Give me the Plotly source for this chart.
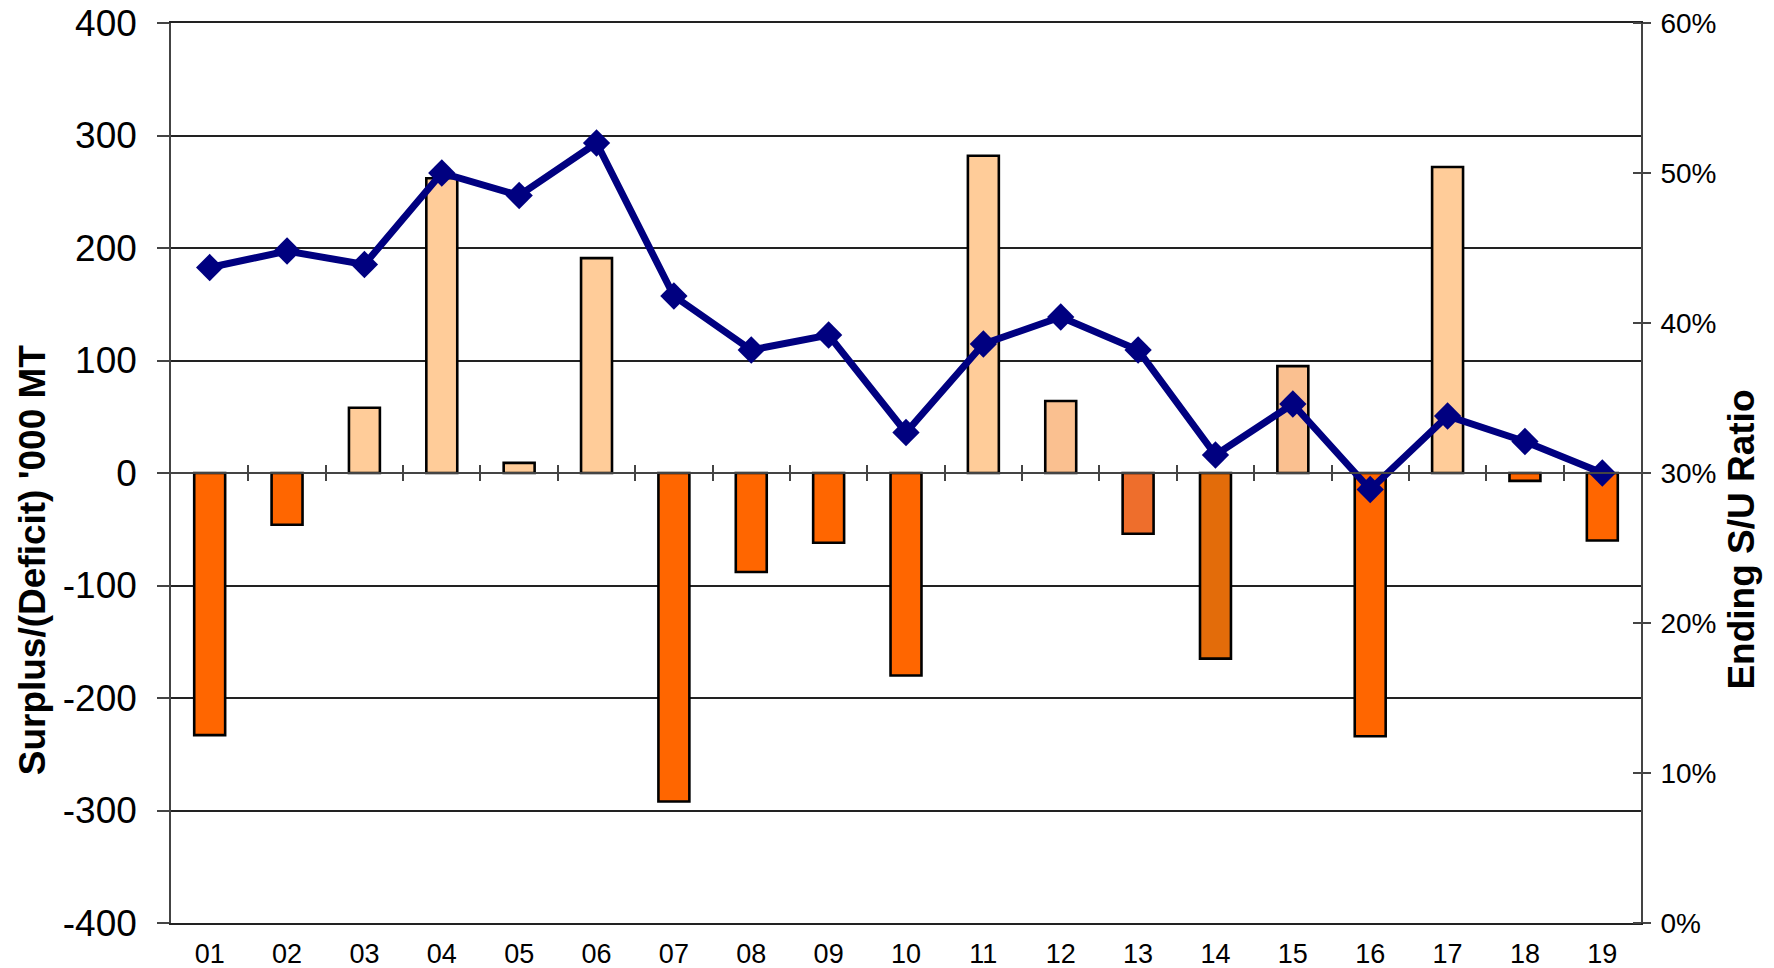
import plotly.graph_objects as go

# ---- data ----
categories = ["01", "02", "03", "04", "05", "06", "07", "08", "09", "10",
              "11", "12", "13", "14", "15", "16", "17", "18", "19"]
surplus = [-233, -46, 58, 262, 9, 191, -292, -88, -62, -180,
           282, 64, -54, -165, 95, -234, 272, -7, -60]
su_ratio = [0.437, 0.448, 0.439, 0.500, 0.485, 0.520, 0.418, 0.382, 0.392, 0.327,
            0.386, 0.404, 0.382, 0.312, 0.346, 0.289, 0.338, 0.321, 0.300]
left_ticks = [-400, -300, -200, -100, 0, 100, 200, 300, 400]
left_tick_labels = ["-400", "-300", "-200", "-100", "0", "100", "200", "300", "400"]
right_ticks = [0, 0.1, 0.2, 0.3, 0.4, 0.5, 0.6]
right_tick_labels = ["0%", "10%", "20%", "30%", "40%", "50%", "60%"]

# ---- styles ----
bar_colors = ["#FF6600", "#FF6600", "#FFCC99", "#FFCC99", "#FFCC99", "#FFCC99",
              "#FF6600", "#FF6600", "#FF6600", "#FF6600", "#FFCC99", "#FAC090",
              "#EE6E2C", "#E36C0A", "#FAC090", "#FF6600", "#FFCC99", "#FF6600",
              "#FF6600"]
FONT = "Arial, Liberation Sans, sans-serif"
GRID = "#222222"
AX = "#444444"

# page body has an 8px default margin; size/margins compensate for it
W, H = 1766, 960
ML, MR, MT, MB = 163, 133, 15, 45
PW = W - ML - MR

pos = list(range(len(categories)))
bounds = [p + 0.5 for p in pos[:-1]]
xr = [-0.5, len(categories) - 0.5]

fig = go.Figure()
fig.add_trace(go.Bar(
    x=pos, y=surplus, width=0.4,
    marker=dict(color=bar_colors, line=dict(color="#000000", width=2.6)),
    xaxis="x", yaxis="y", showlegend=False,
))
fig.add_trace(go.Scatter(
    x=pos, y=su_ratio, mode="lines+markers",
    line=dict(color="#000080", width=7),
    marker=dict(symbol="diamond", size=21, color="#000080"),
    xaxis="x2", yaxis="y2", showlegend=False,
))

fig.update_layout(
    width=W, height=H,
    margin=dict(l=ML, r=MR, t=MT, b=MB),
    paper_bgcolor="white", plot_bgcolor="white",
    font=dict(family=FONT, color="#000000"),
    bargap=0.6,
    xaxis=dict(
        range=xr, tickmode="array", tickvals=pos, ticktext=categories,
        showgrid=False, zeroline=False, ticks="",
        showline=True, mirror=True, linecolor=GRID, linewidth=1.5,
        tickfont=dict(size=27), ticklabelstandoff=6, automargin=False,
        ticklabeloverflow="allow",
    ),
    xaxis2=dict(
        overlaying="x", anchor="free", position=0.5, range=xr,
        tickmode="array", tickvals=bounds, showticklabels=False,
        ticks="outside", ticklen=7, tickwidth=1.5, tickcolor=AX,
        minor=dict(tickmode="array", tickvals=bounds, ticks="inside",
                   ticklen=7, tickwidth=1.5, tickcolor=AX),
        showline=True, linecolor=AX, linewidth=1.6,
        showgrid=False, zeroline=False, automargin=False,
    ),
    yaxis=dict(
        range=[-400, 400], tickmode="array", tickvals=left_ticks,
        ticktext=left_tick_labels,
        showgrid=True, gridcolor=GRID, gridwidth=1.5,
        zeroline=False, showline=True, linecolor=AX, linewidth=1.6,
        ticks="outside", ticklen=12, tickwidth=1.5, tickcolor=AX,
        tickfont=dict(size=37), ticklabelstandoff=13, automargin=False,
        ticklabeloverflow="allow",
    ),
    yaxis2=dict(
        overlaying="y", anchor="x", side="right", range=[0, 0.6],
        tickmode="array", tickvals=right_ticks, ticktext=right_tick_labels,
        showgrid=False, zeroline=False,
        showline=True, linecolor=AX, linewidth=1.6,
        ticks="outside", ticklen=8, tickwidth=1.5, tickcolor=AX,
        minor=dict(tickmode="array", tickvals=right_ticks, ticks="inside",
                   ticklen=8, tickwidth=1.5, tickcolor=AX),
        tickfont=dict(size=28), ticklabelstandoff=4, automargin=False,
        ticklabeloverflow="allow",
    ),
    annotations=[
        dict(text="<b>Surplus/(Deficit) '000 MT</b>", textangle=-90,
             xref="paper", yref="paper", x=(24 - ML) / PW, y=0.403,
             xanchor="center", yanchor="middle", showarrow=False,
             font=dict(size=37, family=FONT)),
        dict(text="<b>Ending S/U Ratio</b>", textangle=-90,
             xref="paper", yref="paper", x=(1734 - ML) / PW, y=0.426,
             xanchor="center", yanchor="middle", showarrow=False,
             font=dict(size=37, family=FONT)),
    ],
)

fig.write_html("out.html")
